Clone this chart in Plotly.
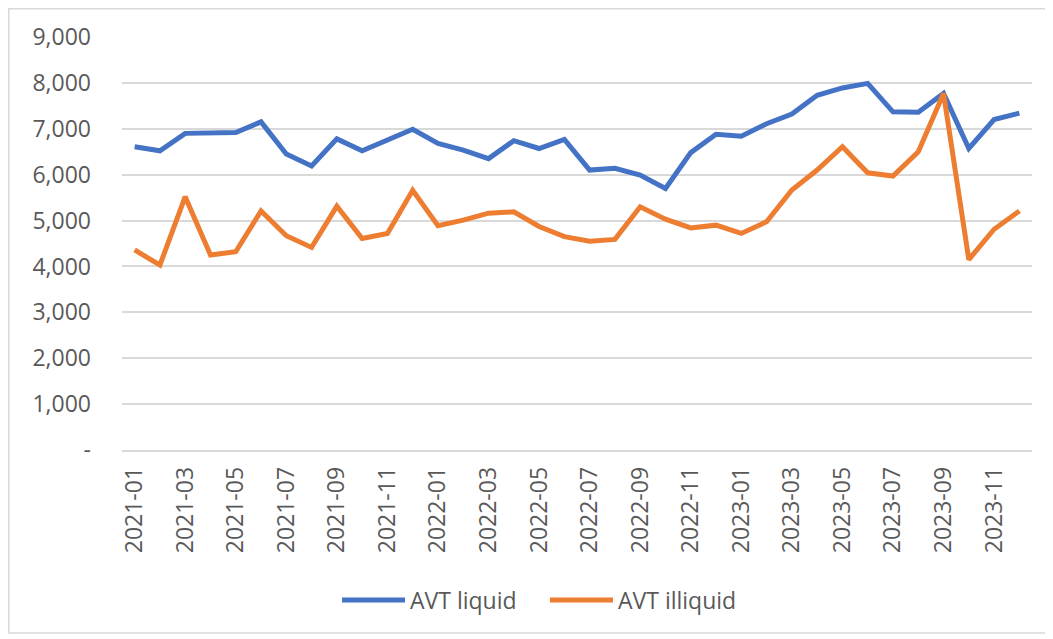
import plotly.graph_objects as go

months = [f"{y}-{m:02d}" for y in (2021, 2022, 2023) for m in range(1, 13)]

avt_liquid = [6610, 6520, 6900, 6900, 6920, 7150, 6450, 6190, 6780, 6520, 6750, 6990,
              6680, 6535, 6350, 6740, 6570, 6770, 6100, 6140, 5990, 5700, 6480, 6880,
              6840, 7110, 7320, 7730, 7890, 7990, 7370, 7360, 7770, 6570, 7200, 7340]

avt_illiquid = [4360, 4030, 5520, 4250, 4320, 5210, 4670, 4415, 5315, 4610, 4720, 5660,
                4890, 5010, 5160, 5190, 4870, 4650, 4550, 4590, 5300, 5030, 4840, 4900,
                4720, 4975, 5665, 6100, 6610, 6040, 5970, 6500, 7770, 4150, 4810, 5210]

y_tickvals = [0, 1000, 2000, 3000, 4000, 5000, 6000, 7000, 8000, 9000]
y_ticktext = ["-", "1,000", "2,000", "3,000", "4,000", "5,000", "6,000", "7,000", "8,000", "9,000"]
x_tickvals = months[::2]

FONT = "Open Sans"
TXT = "#595959"

fig = go.Figure()
fig.add_trace(go.Scatter(x=months, y=avt_liquid, mode="lines", name="AVT liquid",
                         line=dict(color="#4472C4", width=5)))
fig.add_trace(go.Scatter(x=months, y=avt_illiquid, mode="lines", name="AVT illiquid",
                         line=dict(color="#ED7D31", width=5)))

# page body has an 8px offset; work in screen coords and convert
OFF = 8
W, H = 1053 - OFF, 639 - OFF
PLOT_L, PLOT_R, PLOT_T, PLOT_B = 122, 1032, 37, 450  # screen coords of the plot area
L, T = PLOT_L - OFF, PLOT_T - OFF
R, B = W - (PLOT_R - OFF), H - (PLOT_B - OFF)
pw, ph = W - L - R, H - T - B

def px(x):
    return (x - OFF - L) / pw

def py(y):
    return (H - B - (y - OFF)) / ph

fig.update_layout(
    width=W, height=H,
    margin=dict(l=L, r=R, t=T, b=B),
    paper_bgcolor="white", plot_bgcolor="white",
    font=dict(family=FONT, size=23, color=TXT),
    showlegend=True,
    legend=dict(orientation="h", x=px(337), xanchor="left", y=py(600), yanchor="middle",
                itemwidth=63, entrywidth=130, entrywidthmode="pixels",
                font=dict(family=FONT, size=23, color=TXT), bgcolor="rgba(0,0,0,0)"),
    xaxis=dict(type="category", range=[-0.5, 35.5], tickmode="array", tickvals=x_tickvals,
               ticktext=x_tickvals, tickangle=-90, showgrid=False, zeroline=False,
               showline=True, linecolor="#d9d9d9", linewidth=1.5, ticks="",
               ticklabelstandoff=6, tickfont=dict(family=FONT, size=23, color=TXT)),
    yaxis=dict(range=[0, 9000], tickmode="array", tickvals=y_tickvals, ticktext=y_ticktext,
               showgrid=True, gridcolor="#d9d9d9", gridwidth=1.5, zeroline=False,
               showline=False, ticks="", ticklabelstandoff=30,
               tickfont=dict(family=FONT, size=23, color=TXT)),
    shapes=[dict(type="rect", xref="paper", yref="paper",
                 x0=px(8.75), x1=px(1047), y0=py(633), y1=py(8.75),
                 line=dict(color="#d9d9d9", width=1.5), fillcolor="rgba(0,0,0,0)", layer="below")],
)

fig.write_html("out.html")
